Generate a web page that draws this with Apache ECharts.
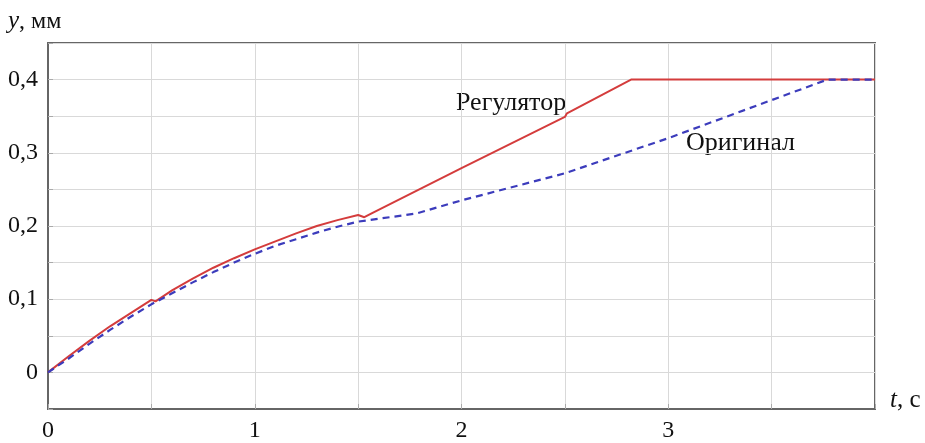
<!DOCTYPE html>
<html>
<head>
<meta charset="utf-8">
<script src="https://cdn.jsdelivr.net/npm/echarts@6/dist/echarts.min.js"></script>
<style>
  html, body { margin: 0; padding: 0; background: #fff; }
  #chart { width: 925px; height: 443px; }
</style>
</head>
<body>
<div id="chart"></div>
<script>
// Регулятор (solid red)
const regT = [0, 0.1, 0.2, 0.3, 0.4, 0.5, 0.52, 0.6, 0.7, 0.8, 0.9, 1.0, 1.1, 1.2, 1.3, 1.4, 1.5, 1.53, 1.57, 2.0, 2.5, 2.51, 2.82, 4.0];
const regY = [0, 0.022, 0.043, 0.063, 0.081, 0.099, 0.097, 0.112, 0.128, 0.143, 0.156, 0.168, 0.179, 0.190, 0.200, 0.208, 0.215, 0.212, 0.218, 0.279, 0.349, 0.354, 0.4, 0.4];

// Оригинал (dashed blue)
const origT = [0, 0.1, 0.2, 0.3, 0.4, 0.5, 0.6, 0.7, 0.8, 0.9, 1.0, 1.1, 1.2, 1.3, 1.4, 1.5, 1.78, 2.0, 2.5, 3.0, 3.5, 3.77, 4.0];
const origY = [0, 0.019, 0.039, 0.058, 0.076, 0.093, 0.108, 0.123, 0.137, 0.150, 0.162, 0.173, 0.182, 0.191, 0.199, 0.206, 0.217, 0.235, 0.272, 0.320, 0.372, 0.4, 0.4];

const xLabels = [0, 1, 2, 3];
const yLabels = [0, 0.1, 0.2, 0.3, 0.4];

const serif = '"Liberation Serif", "DejaVu Serif", serif';

const chart = echarts.init(document.getElementById('chart'));

const option = {
  animation: false,
  backgroundColor: '#ffffff',
  grid: {
    left: 48, right: 50, top: 43, bottom: 34,
    show: true, borderColor: '#666', borderWidth: 2
  },
  xAxis: {
    type: 'value', min: 0, max: 4, interval: 0.5,
    axisLine: { show: true, onZero: false, lineStyle: { color: '#666', width: 2 } },
    axisTick: { show: true, inside: true, length: 5, lineStyle: { color: '#aaa' } },
    splitLine: { show: true, lineStyle: { color: '#d9d9d9', width: 1 } },
    axisLabel: {
      margin: 10, color: '#111', fontFamily: serif, fontSize: 24,
      formatter: v => (xLabels.some(x => Math.abs(x - v) < 1e-6) ? String(Math.round(v)) : '')
    }
  },
  yAxis: {
    type: 'value', min: -0.05, max: 0.45, interval: 0.05,
    axisLine: { show: true, onZero: false, lineStyle: { color: '#666', width: 2 } },
    axisTick: { show: true, inside: true, length: 5, lineStyle: { color: '#aaa' } },
    splitLine: { show: true, lineStyle: { color: '#d9d9d9', width: 1 } },
    axisLabel: {
      margin: 10, color: '#111', fontFamily: serif, fontSize: 24,
      formatter: v => {
        const hit = yLabels.find(y => Math.abs(y - v) < 1e-6);
        if (hit === undefined) return '';
        return hit === 0 ? '0' : hit.toFixed(1).replace('.', ',');
      }
    }
  },
  series: [
    {
      name: 'Регулятор', type: 'line', showSymbol: false,
      data: regT.map((t, i) => [t, regY[i]]),
      lineStyle: { color: '#d43c3c', width: 2 }
    },
    {
      name: 'Оригинал', type: 'line', showSymbol: false,
      data: origT.map((t, i) => [t, origY[i]]),
      lineStyle: { color: '#3c3cbc', width: 2.2, type: [7, 5] }
    }
  ],
  graphic: [
    {
      type: 'text', left: 8, top: 9,
      style: {
        text: '{i|y}, мм', fill: '#111', font: '24px ' + serif,
        rich: { i: { fontStyle: 'italic', fontFamily: serif, fontSize: 25, fill: '#111' } }
      }
    },
    {
      type: 'text', left: 890, top: 388,
      style: {
        text: '{i|t}, с', fill: '#111', font: '25px ' + serif,
        rich: { i: { fontStyle: 'italic', fontFamily: serif, fontSize: 25, fill: '#111' } }
      }
    },
    {
      type: 'text', left: 456, top: 90,
      style: { text: 'Регулятор', fill: '#111', font: '26px ' + serif, backgroundColor: '#fff' }
    },
    {
      type: 'text', left: 686, top: 130,
      style: { text: 'Оригинал', fill: '#111', font: '26px ' + serif, backgroundColor: '#fff' }
    }
  ]
};

chart.setOption(option);
</script>
</body>
</html>
